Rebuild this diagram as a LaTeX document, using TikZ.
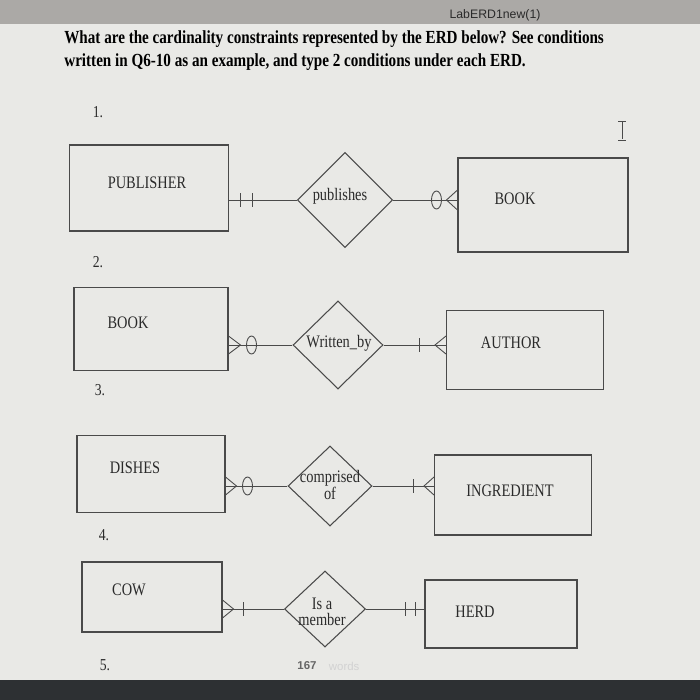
\documentclass[tikz,border=0pt]{standalone}
\usepackage{fontspec}
\setmainfont{Liberation Serif}[FakeStretch=0.82]
\newfontfamily\uifont{Liberation Sans}
\usepackage{xcolor}
\usetikzlibrary{shapes.geometric, calc}

\definecolor{pagebg}{HTML}{E9E9E6}
\definecolor{barbg}{HTML}{ABA9A6}
\definecolor{dockbg}{HTML}{2D3033}
\definecolor{inkgray}{HTML}{4A4A4A}
\definecolor{textgray}{HTML}{2A2A2A}

\begin{document}
\begin{tikzpicture}[x=0.02cm, y=-0.02cm, every node/.style={font=\small},
  entity/.style={draw=inkgray, line width=0.6pt, rectangle, inner sep=0pt},
  relation/.style={draw=inkgray, line width=0.6pt, diamond, shape aspect=1, inner sep=0pt},
  link/.style={draw=inkgray, line width=0.5pt},
  etxt/.style={text=textgray, font=\fontsize{10}{9}\selectfont, inner sep=0pt, align=center},
  numlbl/.style={text=textgray, font=\fontsize{9.5}{11}\selectfont, inner sep=0pt}]
% Screen background, header bar and dock
\fill[pagebg] (0,0) rectangle (700,700);
\fill[barbg] (0,0) rectangle (700,24);
\fill[dockbg] (0,680) rectangle (700,700);
\node[font=\uifont\fontsize{7}{8}\selectfont, text=textgray] (hdr) at (495,15) {LabERD1new(1)};
% Question text
\node[anchor=north west, align=left, inner sep=0pt, text=black,
  font=\fontsize{10.5}{13.5}\selectfont\bfseries] (question) at (64,30)
  {What are the cardinality constraints represented by the ERD below? See conditions\\
   written in Q6-10 as an example, and type 2 conditions under each ERD.};
% Item numbers
\foreach \n/\x/\y in {1/98/112, 2/98/262, 3/100/390, 4/104/535, 5/105/665} {
  \node[numlbl] (num\n) at (\x,\y) {\n.};
}
% Text cursor
\draw[inkgray, line width=0.5pt] (622,122) -- (622,139) (618,121) -- (626,121) (618,140) -- (626,140);

% 1. PUBLISHER -- publishes -- BOOK
\node[entity, minimum width=3.18cm, minimum height=1.72cm] (pub) at (149,188) {};
\node[relation, minimum width=1.9cm, minimum height=1.9cm] (pubs) at (345,200) {};
\node[entity, minimum width=3.4cm, minimum height=1.88cm] (book1) at (543,205) {};
\node[etxt] (pubtxt) at (147,183) {PUBLISHER};
\node[etxt] (pubstxt) at (340,196) {publishes};
\node[etxt] (book1txt) at (515,199) {BOOK};
\coordinate (p1) at (pub.east |- pubs.west);
\coordinate (q1) at (book1.west |- pubs.east);
\draw[link] (p1) -- (pubs.west);
\draw[link] (pubs.east) -- (q1);
\draw[link] ($(p1)+(11,-7)$) -- ++(0,14) ($(p1)+(23,-7)$) -- ++(0,14);
\draw[link] ($(q1)+(-21,0)$) ellipse [x radius=5, y radius=9];
\draw[link] ($(q1)+(0,-10)$) -- ($(q1)+(-11,0)$) -- ($(q1)+(0,10)$);

% 2. BOOK -- Written_by -- AUTHOR
\node[entity, minimum width=3.08cm, minimum height=1.66cm] (book2) at (151,329) {};
\node[relation, minimum width=1.8cm, minimum height=1.76cm] (wby) at (338,345) {};
\node[entity, minimum width=3.14cm, minimum height=1.58cm] (auth) at (525,350) {};
\node[etxt] (book2txt) at (128,323) {BOOK};
\node[etxt] (wbytxt) at (339,343) {Written\_by};
\node[etxt] (authtxt) at (511,343) {AUTHOR};
\coordinate (p2) at (book2.east |- wby.west);
\coordinate (q2) at (auth.west |- wby.east);
\draw[link] (p2) -- (wby.west);
\draw[link] (wby.east) -- (q2);
\draw[link] ($(p2)+(0,-9)$) -- ($(p2)+(12,0)$) -- ($(p2)+(0,9)$);
\draw[link] ($(p2)+(23,0)$) ellipse [x radius=5, y radius=9];
\draw[link] ($(q2)+(-27,-7)$) -- ++(0,14);
\draw[link] ($(q2)+(0,-9)$) -- ($(q2)+(-11,0)$) -- ($(q2)+(0,9)$);

% 3. DISHES -- comprised of -- INGREDIENT
\node[entity, minimum width=2.96cm, minimum height=1.54cm] (dish) at (151,474) {};
\node[relation, minimum width=1.68cm, minimum height=1.6cm] (comp) at (330,486) {};
\node[entity, minimum width=3.14cm, minimum height=1.6cm] (ingr) at (513,495) {};
\node[etxt] (dishtxt) at (135,468) {DISHES};
\node[etxt] (comptxt) at (330,485) {comprised\\of};
\node[etxt] (ingrtxt) at (510,491) {INGREDIENT};
\coordinate (p3) at (dish.east |- comp.west);
\coordinate (q3) at (ingr.west |- comp.east);
\draw[link] (p3) -- (comp.west);
\draw[link] (comp.east) -- (q3);
\draw[link] ($(p3)+(0,-9)$) -- ($(p3)+(11,0)$) -- ($(p3)+(0,9)$);
\draw[link] ($(p3)+(22,0)$) ellipse [x radius=5, y radius=9];
\draw[link] ($(q3)+(-21,-7)$) -- ++(0,14);
\draw[link] ($(q3)+(0,-9)$) -- ($(q3)+(-10,0)$) -- ($(q3)+(0,9)$);

% 4. COW -- Is a member -- HERD
\node[entity, minimum width=2.8cm, minimum height=1.4cm] (cow) at (152,597) {};
\node[relation, minimum width=1.62cm, minimum height=1.52cm] (mem) at (325,609) {};
\node[entity, minimum width=3.04cm, minimum height=1.36cm] (herd) at (501,614) {};
\node[etxt] (cowtxt) at (129,590) {COW};
\node[etxt] (memtxt) at (322,612) {Is a\\member};
\node[etxt] (herdtxt) at (475,612) {HERD};
\coordinate (p4) at (cow.east |- mem.west);
\coordinate (q4) at (herd.west |- mem.east);
\draw[link] (p4) -- (mem.west);
\draw[link] (mem.east) -- (q4);
\draw[link] ($(p4)+(0,-9)$) -- ($(p4)+(11,0)$) -- ($(p4)+(0,9)$);
\draw[link] ($(p4)+(21,-7)$) -- ++(0,14);
\draw[link] ($(q4)+(-19,-7)$) -- ++(0,14) ($(q4)+(-9,-7)$) -- ++(0,14);

% Word count
\node[font=\uifont\bfseries\fontsize{6.5}{8}\selectfont, text=gray!80!black] (wc) at (307,666) {167};
\node[font=\uifont\fontsize{6.5}{8}\selectfont, text=gray!35, anchor=west] (wcw) at (wc.east) {words};
\end{tikzpicture}
\end{document}
